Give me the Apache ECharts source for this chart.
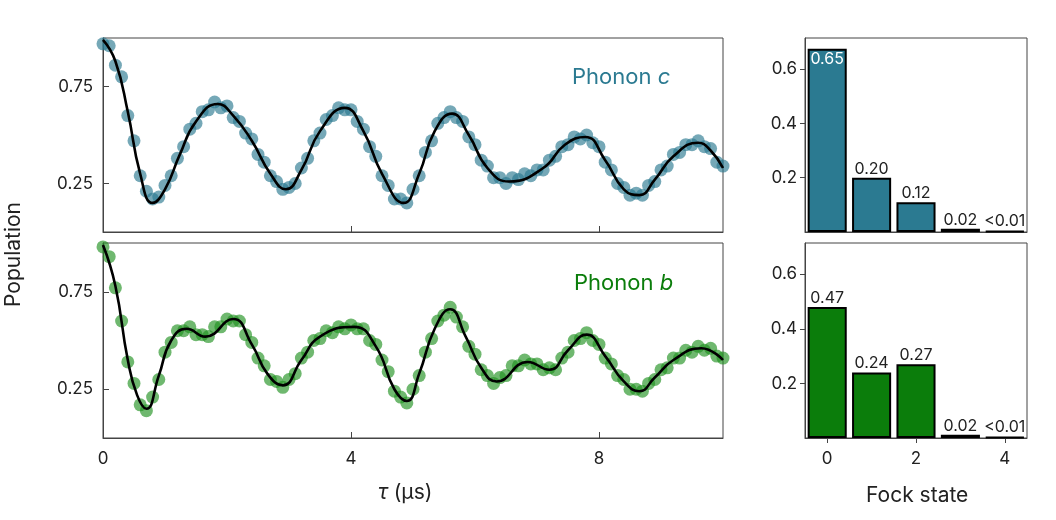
<!DOCTYPE html><html><head><meta charset="utf-8">
<script src="https://cdn.jsdelivr.net/npm/echarts@6/dist/echarts.min.js"></script>
<style>html,body{margin:0;padding:0;background:#fff}#c{width:1056px;height:520px}</style></head><body><div id="c"></div>
<script>
const step = 0.1;
const cScatter = [0.97,0.96,0.86,0.80,0.60,0.47,0.29,0.21,0.17,0.18,0.24,0.29,0.38,0.44,0.53,0.56,0.62,0.63,0.67,0.64,0.65,0.59,0.57,0.51,0.48,0.40,0.36,0.29,0.26,0.22,0.23,0.25,0.33,0.38,0.47,0.51,0.58,0.60,0.64,0.63,0.63,0.57,0.53,0.44,0.39,0.29,0.24,0.17,0.17,0.15,0.22,0.29,0.41,0.47,0.56,0.59,0.62,0.59,0.57,0.49,0.45,0.37,0.34,0.28,0.28,0.25,0.28,0.27,0.30,0.29,0.32,0.32,0.37,0.39,0.44,0.45,0.49,0.48,0.50,0.46,0.44,0.36,0.32,0.25,0.23,0.19,0.20,0.19,0.24,0.26,0.32,0.34,0.40,0.41,0.45,0.45,0.47,0.44,0.43,0.36,0.34];
const bScatter = [0.98,0.93,0.77,0.60,0.39,0.28,0.17,0.14,0.21,0.30,0.44,0.49,0.55,0.55,0.57,0.53,0.53,0.52,0.57,0.57,0.61,0.60,0.60,0.53,0.49,0.41,0.37,0.30,0.29,0.26,0.30,0.33,0.41,0.44,0.50,0.51,0.55,0.54,0.57,0.56,0.58,0.56,0.56,0.50,0.48,0.40,0.34,0.24,0.21,0.18,0.25,0.32,0.44,0.51,0.60,0.63,0.67,0.62,0.57,0.47,0.43,0.35,0.32,0.28,0.31,0.32,0.37,0.37,0.40,0.38,0.38,0.35,0.36,0.35,0.41,0.44,0.50,0.51,0.54,0.50,0.48,0.41,0.38,0.32,0.30,0.25,0.25,0.24,0.28,0.30,0.35,0.36,0.41,0.41,0.45,0.44,0.47,0.45,0.46,0.42,0.41];
const cFit = [[0,0.99],[0.2,0.88],[0.4,0.62],[0.6,0.30],[0.8,0.15],[1.0,0.22],[1.24,0.40],[1.5,0.57],[1.85,0.66],[2.1,0.60],[2.4,0.47],[2.7,0.30],[2.95,0.22],[3.2,0.32],[3.5,0.52],[3.9,0.64],[4.2,0.52],[4.5,0.30],[4.85,0.15],[5.1,0.30],[5.35,0.52],[5.63,0.61],[5.9,0.50],[6.2,0.33],[6.55,0.26],[7.1,0.33],[7.45,0.45],[7.78,0.49],[8.1,0.37],[8.4,0.22],[8.65,0.19],[8.9,0.27],[9.2,0.39],[9.6,0.46],[9.8,0.42],[10,0.33]];
const bFit = [[0,0.99],[0.2,0.78],[0.4,0.40],[0.55,0.22],[0.7,0.15],[0.9,0.32],[1.1,0.50],[1.35,0.56],[1.65,0.52],[2.1,0.61],[2.4,0.48],[2.65,0.33],[2.9,0.27],[3.2,0.40],[3.5,0.52],[4.05,0.57],[4.4,0.47],[4.7,0.25],[4.9,0.19],[5.1,0.33],[5.35,0.56],[5.6,0.66],[5.85,0.52],[6.1,0.36],[6.35,0.29],[6.85,0.39],[7.2,0.35],[7.5,0.45],[7.8,0.53],[8.1,0.42],[8.4,0.29],[8.65,0.24],[8.9,0.31],[9.2,0.40],[9.65,0.46],[10,0.40]];
const fockStates = ['0','1','2','3','4'];
const cFock = [0.675,0.20,0.11,0.012,0.003];
const bFock = [0.48,0.24,0.27,0.012,0.003];
const cFockLabels = ['0.65','0.20','0.12','0.02','<0.01'];
const bFockLabels = ['0.47','0.24','0.27','0.02','<0.01'];
const xTicks = [0,4,8];
const yTicksLeft = [0.25,0.75];
const yTicksFock = [0.2,0.4,0.6];

const teal = '#2b7a91', green = '#0b7d0b';
const F = 'Inter, Roboto, sans-serif';
const pts = a => a.map((v,i)=>[+(i*step).toFixed(2), v]);
const axisLine = {show:true, lineStyle:{color:'#444',width:1}};
function tAxis(i, labels){return {gridIndex:i,type:'value',min:0,max:10,axisLine,
  axisTick:{inside:true,customValues:xTicks,length:6,lineStyle:{color:'#444'}},
  axisLabel:{show:labels,customValues:xTicks,fontSize:17,color:'#222',fontFamily:F,margin:12},splitLine:{show:false}};}
function pAxis(i){return {gridIndex:i,type:'value',min:0,max:1,axisLine,
  axisTick:{inside:true,customValues:yTicksLeft,length:6,lineStyle:{color:'#444'}},
  axisLabel:{customValues:yTicksLeft,fontSize:17,color:'#222',fontFamily:F,margin:10,formatter:v=>v.toFixed(2)},splitLine:{show:false}};}
function fAxisX(i, labels){return {gridIndex:i,type:'category',data:fockStates,axisLine,
  axisTick:{show:labels,alignWithLabel:true,interval:1,lineStyle:{color:'#444'}},
  axisLabel:{show:labels,interval:1,fontSize:17,color:'#222',fontFamily:F,margin:12},splitLine:{show:false}};}
function fAxisY(i){return {gridIndex:i,type:'value',min:0,max:0.715,axisLine,
  axisTick:{show:true,customValues:yTicksFock,lineStyle:{color:'#444'}},
  axisLabel:{customValues:yTicksFock,fontSize:17,color:'#222',fontFamily:F,margin:8,formatter:v=>v.toFixed(1)},splitLine:{show:false}};}
function bars(i, vals, labels, color){return {type:'bar',xAxisIndex:i,yAxisIndex:i,barWidth:'88%',
  data:vals.map((v,k)=>({value:v,label:{show:true,position:k===0&&i===2?'insideTop':'top',distance:k===0&&i===2?2:1,
    color:k===0&&i===2?'#fff':'#222',fontSize:16,fontFamily:F,formatter:labels[k]}})),
  itemStyle:{color,borderColor:'#000',borderWidth:2}};}
const grids=[{left:103,top:38,width:620,height:194},{left:103,top:243,width:620,height:195},
  {left:805,top:38,width:222,height:194},{left:805,top:243,width:222,height:195}]
  .map(g=>Object.assign(g,{show:true,borderColor:'#444',borderWidth:1,backgroundColor:'transparent'}));
const chart = echarts.init(document.getElementById('c'));
chart.setOption({
  animation:false,
  grid:grids,
  xAxis:[tAxis(0,false),tAxis(1,true),fAxisX(2,false),fAxisX(3,true)],
  yAxis:[pAxis(0),pAxis(1),fAxisY(2),fAxisY(3)],
  series:[
    {type:'scatter',xAxisIndex:0,yAxisIndex:0,data:pts(cScatter),symbolSize:13,itemStyle:{color:teal,opacity:0.65}},
    {type:'line',xAxisIndex:0,yAxisIndex:0,data:cFit,smooth:0.5,showSymbol:false,lineStyle:{color:'#000',width:2.6}},
    {type:'scatter',xAxisIndex:1,yAxisIndex:1,data:pts(bScatter),symbolSize:13,itemStyle:{color:'#229222',opacity:0.65}},
    {type:'line',xAxisIndex:1,yAxisIndex:1,data:bFit,smooth:0.5,showSymbol:false,lineStyle:{color:'#000',width:2.6}},
    bars(2,cFock,cFockLabels,teal),
    bars(3,bFock,bFockLabels,green)
  ],
  graphic:[
    {type:'text',left:572,top:66,style:{text:'Phonon {i|c}',fill:teal,font:'22px '+F,rich:{i:{fontStyle:'italic',fontSize:22,fill:teal,fontFamily:F}}}},
    {type:'text',left:574,top:272,style:{text:'Phonon {i|b}',fill:green,font:'22px '+F,rich:{i:{fontStyle:'italic',fontSize:22,fill:green,fontFamily:F}}}},
    {type:'text',left:3,top:202,rotation:Math.PI/2,style:{text:'Population',fill:'#222',font:'21px '+F}},
    {type:'text',left:378,top:482,style:{text:'{i|τ} (µs)',fill:'#222',font:'21px '+F,rich:{i:{fontStyle:'italic',fontSize:21,fontFamily:F,fill:'#222'}}}},
    {type:'text',left:866,top:485,style:{text:'Fock state',fill:'#222',font:'21px '+F}}
  ]
});
</script></body></html>
